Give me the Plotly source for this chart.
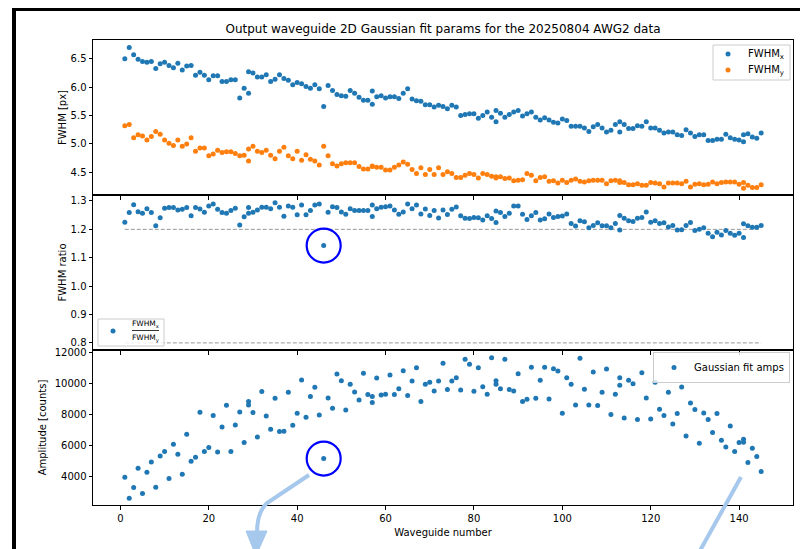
import plotly.graph_objects as go
from plotly.subplots import make_subplots

# waveguide numbers (a few waveguides were fitted twice)
waveguide = sorted(list(range(1, 146)) + [29, 57, 85, 113, 141])

fwhm_x = [6.50, 6.70, 6.57, 6.49, 6.45, 6.44, 6.45, 6.33, 6.41, 6.44,
          6.38, 6.34, 6.42, 6.30, 6.37, 6.38, 6.21, 6.26, 6.21, 6.13,
          6.20, 6.20, 6.10, 6.10, 6.13, 6.13, 5.81, 5.98, 5.89, 6.27, 6.25,
          6.18, 6.18, 6.22, 6.10, 6.14, 6.22, 6.15, 6.12, 6.04, 6.08,
          6.06, 6.01, 5.98, 6.04, 5.97, 5.66, 6.03, 5.94, 5.87, 5.85,
          5.84, 5.94, 5.89, 5.82, 5.77, 5.77, 5.70, 5.93, 5.83, 5.85, 5.81,
          5.83, 5.83, 5.80, 5.89, 5.97, 5.79, 5.76, 5.75, 5.69, 5.69,
          5.65, 5.68, 5.66, 5.62, 5.68, 5.65, 5.50, 5.52, 5.53, 5.53,
          5.45, 5.50, 5.56, 5.47, 5.59, 5.39, 5.54, 5.47, 5.52, 5.56, 5.59,
          5.49, 5.53, 5.56, 5.47, 5.42, 5.46, 5.42, 5.38, 5.37, 5.44,
          5.41, 5.31, 5.31, 5.31, 5.28, 5.22, 5.30, 5.34, 5.28, 5.21,
          5.24, 5.34, 5.39, 5.21, 5.34, 5.27, 5.27, 5.32, 5.31, 5.39, 5.28,
          5.28, 5.24, 5.19, 5.21, 5.21, 5.16, 5.15, 5.25, 5.19, 5.13,
          5.16, 5.16, 5.06, 5.06, 5.08, 5.08, 5.17, 5.11, 5.08, 5.07,
          5.16, 5.04, 5.18, 5.12, 5.10, 5.19]

fwhm_y = [5.32, 5.34, 5.11, 5.16, 5.14, 5.07, 5.13, 5.22, 5.17, 5.07,
          5.01, 4.97, 5.07, 4.96, 5.00, 5.11, 4.87, 4.93, 4.93, 4.79,
          4.82, 4.89, 4.85, 4.86, 4.86, 4.83, 4.79, 4.80, 4.70, 4.91, 4.96,
          4.87, 4.85, 4.89, 4.80, 4.74, 4.87, 4.94, 4.79, 4.74, 4.87,
          4.71, 4.81, 4.73, 4.70, 4.63, 4.96, 4.79, 4.65, 4.61, 4.65,
          4.67, 4.67, 4.67, 4.60, 4.56, 4.56, 4.60, 4.61, 4.59, 4.59, 4.54,
          4.54, 4.59, 4.63, 4.68, 4.64, 4.55, 4.48, 4.58, 4.46, 4.55,
          4.46, 4.58, 4.46, 4.51, 4.48, 4.41, 4.41, 4.45, 4.48, 4.46,
          4.40, 4.48, 4.46, 4.43, 4.42, 4.40, 4.42, 4.39, 4.40, 4.35, 4.36,
          4.37, 4.48, 4.45, 4.35, 4.41, 4.42, 4.34, 4.35, 4.31, 4.36,
          4.32, 4.36, 4.38, 4.34, 4.33, 4.35, 4.36, 4.36, 4.36, 4.30,
          4.35, 4.36, 4.32, 4.35, 4.32, 4.28, 4.28, 4.30, 4.27, 4.27, 4.32,
          4.31, 4.30, 4.24, 4.31, 4.31, 4.31, 4.30, 4.34, 4.24, 4.29,
          4.30, 4.28, 4.29, 4.33, 4.30, 4.32, 4.33, 4.33, 4.33, 4.29,
          4.22, 4.32, 4.27, 4.23, 4.23, 4.28]

fwhm_ratio = [1.225, 1.259, 1.287, 1.262, 1.257, 1.273, 1.259, 1.213, 1.241, 1.274,
              1.277, 1.277, 1.268, 1.271, 1.277, 1.248, 1.277, 1.272, 1.260, 1.282,
              1.289, 1.271, 1.259, 1.257, 1.266, 1.274, 1.215, 1.244, 1.257, 1.277, 1.260,
              1.268, 1.278, 1.278, 1.273, 1.294, 1.278, 1.246, 1.282, 1.278, 1.251,
              1.286, 1.251, 1.266, 1.286, 1.289, 1.143, 1.260, 1.280, 1.277, 1.261,
              1.253, 1.273, 1.266, 1.266, 1.266, 1.266, 1.245, 1.286, 1.273, 1.278, 1.280,
              1.282, 1.268, 1.253, 1.261, 1.289, 1.273, 1.286, 1.254, 1.272, 1.249,
              1.266, 1.240, 1.268, 1.252, 1.271, 1.279, 1.248, 1.239, 1.238, 1.242,
              1.241, 1.233, 1.248, 1.238, 1.265, 1.224, 1.259, 1.245, 1.257, 1.282, 1.282,
              1.253, 1.235, 1.248, 1.259, 1.233, 1.237, 1.254, 1.242, 1.245, 1.247,
              1.254, 1.221, 1.212, 1.230, 1.227, 1.206, 1.214, 1.223, 1.213, 1.213,
              1.206, 1.221, 1.249, 1.198, 1.239, 1.230, 1.228, 1.239, 1.242, 1.261, 1.225,
              1.230, 1.221, 1.223, 1.208, 1.214, 1.198, 1.199, 1.214, 1.224, 1.196,
              1.200, 1.206, 1.186, 1.174, 1.190, 1.180, 1.196, 1.186, 1.179, 1.186,
              1.220, 1.171, 1.213, 1.207, 1.207, 1.214]

gauss_amp = [3980, 2636, 3319, 4556, 2935, 4300, 4961, 3340, 5345, 5622,
             3895, 6091, 5452, 4172, 6732, 5004, 5260, 8139, 5622, 5878,
             7926, 5601, 7201, 8587, 5622, 7329, 8161, 6198, 8822, 8609, 8118,
             6561, 9462, 7905, 7051, 9035, 6902, 6923, 9419, 7307, 8075,
             10208, 7819, 9142, 9739, 7969, 5174, 9056, 8395, 10592, 10166,
             8289, 9931, 9440, 8928, 10635, 9270, 9142, 8758, 10336, 9248, 9291,
             10528, 9270, 9654, 10806, 9206, 10144, 10998, 8822, 9931, 10059,
             9504, 10144, 11275, 9590, 10144, 10358, 9568, 11531, 11211, 9483,
             10998, 9782, 9291, 11637, 10166, 9931, 9654, 11531, 9590, 9504, 10614,
             8822, 8971, 11019, 9035, 10187, 11019, 8992, 10934, 10784, 8075,
             10358, 9931, 8609, 11595, 9611, 8609, 10720, 8566, 9419, 10912,
             7990, 9291, 10358, 9867, 7777, 10187, 9974, 7670, 10677, 9056, 7713,
             10059, 8331, 7926, 9419, 7393, 8054, 9760, 6625, 8737, 8310,
             6155, 8097, 7670, 6838, 8054, 6348, 5921, 7265, 5622, 6198,
             6411, 6220, 4918, 5836, 5302, 4342]

ratio_refs = [1.2, 0.8]
outlier_wg = 46

# the page puts the figure 8px in from the top-left corner,
# so the figure is 800x541 and page pixels are shifted by OFF
OFF = 8
W, H = 800, 541
L, R, T, B = 85, 15, 32, 44


def px(x):
    return (x - OFF - L) / (W - L - R)


def py(y):
    return (H - B - (y - OFF)) / (H - T - B)


blue = "#1f77b4"
orange = "#ff7f0e"
arrow_col = "#a6c8ec"
font = "DejaVu Sans"
msize = 5

fig = make_subplots(rows=3, cols=1, shared_xaxes=True, vertical_spacing=0)

fig.add_trace(go.Scatter(x=waveguide, y=fwhm_x, mode="markers", name="FWHM<sub>x</sub>",
                         marker=dict(color=blue, size=msize), showlegend=False), row=1, col=1)
fig.add_trace(go.Scatter(x=waveguide, y=fwhm_y, mode="markers", name="FWHM<sub>y</sub>",
                         marker=dict(color=orange, size=msize), showlegend=False), row=1, col=1)

for lvl in ratio_refs:
    fig.add_trace(go.Scatter(x=[waveguide[0], waveguide[-1]], y=[lvl, lvl], mode="lines",
                             line=dict(color="#999999", width=1, dash="4px,2px"),
                             showlegend=False), row=2, col=1)
fig.add_trace(go.Scatter(x=waveguide, y=fwhm_ratio, mode="markers", showlegend=False,
                         marker=dict(color=blue, size=msize)), row=2, col=1)

fig.add_trace(go.Scatter(x=waveguide, y=gauss_amp, mode="markers", name="Gaussian fit amps",
                         marker=dict(color=blue, size=msize), legend="legend2"), row=3, col=1)

axis_common = dict(showline=True, mirror=True, linecolor="black", linewidth=1,
                   ticks="outside", ticklen=3.5, tickcolor="black", showgrid=False,
                   zeroline=False, automargin=False, tickfont=dict(size=10, color="black"))

fig.update_xaxes(range=[-6.2, 152.2], tickvals=[0, 20, 40, 60, 80, 100, 120, 140], **axis_common)
fig.update_xaxes(title=dict(text="Waveguide number", font=dict(size=10), standoff=6), row=3, col=1)

fig.update_yaxes(**axis_common)
fig.update_yaxes(range=[4.10, 6.83], tickvals=[4.5, 5.0, 5.5, 6.0, 6.5], tickformat=".1f",
                 title=dict(text="FWHM [px]", font=dict(size=10), standoff=2), row=1, col=1)
fig.update_yaxes(range=[0.775, 1.321], tickvals=[0.8, 0.9, 1.0, 1.1, 1.2, 1.3], tickformat=".1f",
                 title=dict(text="FWHM ratio", font=dict(size=10), standoff=2), row=2, col=1)
fig.update_yaxes(range=[2200, 12128], tickvals=[4000, 6000, 8000, 10000, 12000], tickformat="d",
                 title=dict(text="Amplitude [counts]", font=dict(size=10), standoff=6), row=3, col=1)

shapes = []
annotations = []

# black window frame
shapes.append(dict(type="rect", xref="paper", yref="paper", x0=px(12), x1=px(830),
                   y0=py(11), y1=py(0), fillcolor="black", line=dict(width=0)))
shapes.append(dict(type="rect", xref="paper", yref="paper", x0=px(12), x1=px(16),
                   y0=py(560), y1=py(0), fillcolor="black", line=dict(width=0)))

# blue circles around the outlier waveguide
k = waveguide.index(outlier_wg)
for yref, yval in (("y2", fwhm_ratio[k]), ("y3", gauss_amp[k])):
    shapes.append(dict(type="circle", xref="x", yref=yref,
                       xsizemode="pixel", ysizemode="pixel",
                       xanchor=waveguide[k], yanchor=yval,
                       x0=-17, x1=17, y0=-17, y1=17,
                       line=dict(color="#0000ff", width=2.2)))

# light blue arrows
shapes.append(dict(type="path", xref="paper", yref="paper",
                   path=f"M {px(309)},{py(475)} L {px(267)},{py(503)} "
                        f"Q {px(257)},{py(512)} {px(257)},{py(533)}",
                   line=dict(color=arrow_col, width=4)))
shapes.append(dict(type="path", xref="paper", yref="paper",
                   path=f"M {px(246)},{py(531)} L {px(267)},{py(531)} L {px(256)},{py(556)} Z",
                   fillcolor=arrow_col, line=dict(color=arrow_col, width=1)))
shapes.append(dict(type="line", xref="paper", yref="paper",
                   x0=px(741), y0=py(477), x1=px(697), y1=py(556),
                   line=dict(color=arrow_col, width=4)))


def legend_box(x0, x1, y0, y1):
    shapes.append(dict(type="rect", xref="paper", yref="paper", x0=px(x0), x1=px(x1),
                       y0=py(y1), y1=py(y0), fillcolor="rgba(255,255,255,0.8)",
                       line=dict(color="#cccccc", width=1)))


def legend_dot(x, y, color):
    shapes.append(dict(type="circle", xref="paper", yref="paper", xsizemode="pixel",
                       ysizemode="pixel", xanchor=px(x), yanchor=py(y),
                       x0=-msize / 2, x1=msize / 2, y0=-msize / 2, y1=msize / 2,
                       fillcolor=color, line=dict(color=color, width=0)))


def label(text, x, y, size, xanchor="left"):
    annotations.append(dict(text=text, xref="paper", yref="paper", x=px(x), y=py(y),
                            showarrow=False, font=dict(size=size, color="black"),
                            xanchor=xanchor, yanchor="middle"))


# legend of the FWHM panel
legend_box(713, 790, 45, 80)
legend_dot(728, 54, blue)
legend_dot(728, 70, orange)
label("FWHM<sub>x</sub>", 746, 54, 10)
label("FWHM<sub>y</sub>", 746, 70, 10)

# legend of the ratio panel (fraction label)
legend_box(98, 164, 319, 346)
legend_dot(113, 331, blue)
shapes.append(dict(type="line", xref="paper", yref="paper", x0=px(132), x1=px(159),
                   y0=py(330.5), y1=py(330.5), line=dict(color="black", width=0.8)))
label("FWHM<sub>x</sub>", 145.5, 323.5, 7.5, "center")
label("FWHM<sub>y</sub>", 145.5, 338.5, 7.5, "center")

fig.update_layout(
    width=W, height=H,
    margin=dict(l=L, r=R, t=T, b=B, autoexpand=False),
    paper_bgcolor="white", plot_bgcolor="white",
    font=dict(family=font, color="black"),
    title=dict(text="Output waveguide 2D Gaussian fit params for the 20250804 AWG2 data",
               x=0.5, xref="paper", xanchor="center", y=1 - (29 - OFF) / H, yanchor="middle",
               font=dict(size=12, color="black")),
    legend2=dict(x=px(790), y=py(352), bgcolor="rgba(255,255,255,0.8)",
                 bordercolor="#cccccc", borderwidth=1, font=dict(size=10, color="black"),
                 xanchor="right", yanchor="top", xref="paper", yref="paper"),
    shapes=shapes,
    annotations=annotations,
)

fig.write_html("out.html", config={"displayModeBar": False})
